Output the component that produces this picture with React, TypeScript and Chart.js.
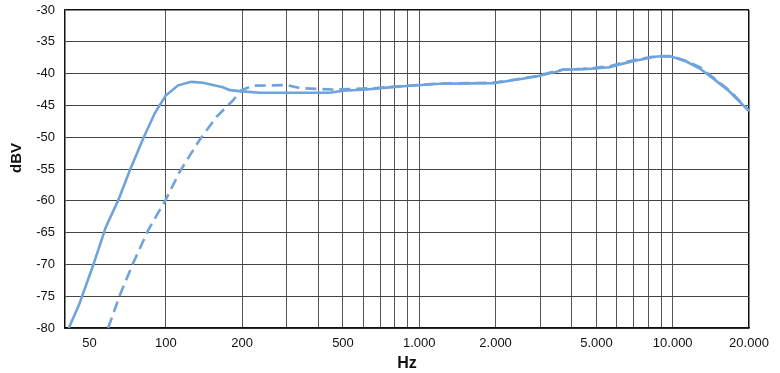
import React, { useEffect, useRef } from "react";
import { Chart, registerables } from "chart.js";

Chart.register(...registerables);

const freqSolid = [41.4, 45.4, 51.7, 58, 64.9, 72.1, 81.4, 90.5, 99.7, 111.8, 126, 140, 168, 179, 200, 235, 338, 443, 500, 619, 742, 890, 1205, 1954, 2208, 2900, 3475, 3690, 4426, 4922, 5640, 6180, 7190, 8620, 9880, 11320, 12790, 14430, 16790, 20000];
const dbvSolid = [-80, -76.4, -70.1, -64.1, -59.9, -55.2, -50.2, -46.2, -43.5, -41.85, -41.3, -41.45, -42.15, -42.6, -42.8, -43.0, -43.0, -43.0, -42.7, -42.5, -42.2, -41.95, -41.6, -41.5, -41.2, -40.45, -39.7, -39.4, -39.3, -39.2, -39.0, -38.55, -37.95, -37.3, -37.3, -38.1, -39.2, -40.75, -42.85, -45.9];

const freqDashed = [59.2, 65.9, 74.3, 85.2, 99.7, 113.5, 136, 158.5, 184, 199, 221, 299, 340, 455, 655, 800, 1205, 1954, 2208, 2900, 3475, 3690, 4426, 4922, 5640, 6180, 7190, 8620, 9880, 11320, 12790, 14430, 16790, 20000];
const dbvDashed = [-80, -74.8, -69.8, -64.6, -59.9, -55.4, -50.4, -46.8, -44.2, -42.6, -41.9, -41.8, -42.3, -42.5, -42.3, -42.05, -41.55, -41.45, -41.15, -40.4, -39.6, -39.35, -39.25, -39.1, -38.85, -38.4, -37.8, -37.25, -37.25, -38.0, -39.0, -40.6, -42.7, -45.8];

const xTickValues = [50, 100, 200, 300, 400, 500, 600, 700, 800, 900, 1000, 2000, 3000, 4000, 5000, 6000, 7000, 8000, 9000, 10000, 20000];
const xLabelValues = [50, 100, 200, 500, 1000, 2000, 5000, 10000, 20000];

const yTitle = "dBV";
const xTitle = "Hz";

const lineColor = "#6fa3dc";
const FONT = "'Liberation Sans', Arial, sans-serif";

function fmt(v: number): string {
  return String(v).replace(/\B(?=(\d{3})+(?!\d))/g, ".");
}

const yTitlePlugin = {
  id: "yTitlePlugin",
  afterDraw(chart: any) {
    const { ctx, chartArea } = chart;
    ctx.save();
    ctx.translate(17, (chartArea.top + chartArea.bottom) / 2 - 11);
    ctx.rotate(-Math.PI / 2);
    ctx.font = "bold 15px " + FONT;
    ctx.fillStyle = "#111";
    ctx.textAlign = "center";
    ctx.textBaseline = "middle";
    ctx.fillText(yTitle, 0, 0);
    ctx.restore();
  },
};

export default function App() {
  const ref = useRef<HTMLCanvasElement | null>(null);
  useEffect(() => {
    if (!ref.current) return;
    const chart = new Chart(ref.current, {
      type: "line",
      data: {
        datasets: [
          {
            data: freqDashed.map((f, i) => ({ x: f, y: dbvDashed[i] })),
            borderColor: lineColor,
            borderWidth: 2.6,
            borderDash: [11, 6],
            pointRadius: 0,
            tension: 0,
            fill: false,
          },
          {
            data: freqSolid.map((f, i) => ({ x: f, y: dbvSolid[i] })),
            borderColor: lineColor,
            borderWidth: 2.6,
            pointRadius: 0,
            tension: 0,
            fill: false,
          },
        ],
      },
      options: {
        responsive: false,
        animation: false,
        layout: { padding: { left: 0, top: 10, right: 31, bottom: 0 } },
        plugins: { legend: { display: false }, tooltip: { enabled: false } },
        scales: {
          x: {
            type: "logarithmic",
            min: 40,
            max: 20000,
            afterBuildTicks: (scale: any) => {
              scale.ticks = xTickValues.map((v) => ({ value: v }));
            },
            afterFit: (scale: any) => {
              scale.height = 45;
              scale.paddingLeft = 0;
              scale.paddingRight = 0;
            },
            grid: {
              color: (ctx: any) => (ctx.tick && ctx.tick.value === 50 ? "rgba(0,0,0,0)" : ctx.tick && ctx.tick.value === 20000 ? "#111" : "#555"),
              lineWidth: (ctx: any) => (ctx.tick && ctx.tick.value === 20000 ? 1.5 : 1),
              drawTicks: false,
            },
            border: { color: "#111", width: 1.5 },
            ticks: {
              autoSkip: false,
              maxRotation: 0,
              padding: 8,
              color: "#111",
              font: { family: FONT, size: 13 },
              callback: (v: any) => (xLabelValues.includes(Number(v)) ? fmt(Number(v)) : ""),
            },
            title: {
              display: true,
              text: xTitle,
              color: "#111",
              padding: { top: 2, bottom: 0 },
              font: { family: FONT, size: 16, weight: "bold" },
            },
          },
          y: {
            min: -80,
            max: -30,
            afterFit: (scale: any) => {
              scale.width = 65;
              scale.paddingTop = 0;
              scale.paddingBottom = 0;
            },
            grid: {
              color: (ctx: any) => (ctx.tick && ctx.tick.value === -30 ? "#111" : "#444"),
              lineWidth: (ctx: any) => (ctx.tick && ctx.tick.value === -30 ? 1.5 : 1),
              drawTicks: false,
            },
            border: { color: "#111", width: 1.5 },
            ticks: {
              stepSize: 5,
              padding: 10,
              color: "#111",
              font: { family: FONT, size: 13 },
            },
          },
        },
      },
      plugins: [yTitlePlugin],
    } as any);
    return () => chart.destroy();
  }, []);
  return (
    <div style={{ position: "fixed", left: 0, top: 0, width: 780, height: 373, background: "#fff" }}>
      <canvas ref={ref} width={780} height={373} style={{ width: 780, height: 373, display: "block" }} />
    </div>
  );
}
